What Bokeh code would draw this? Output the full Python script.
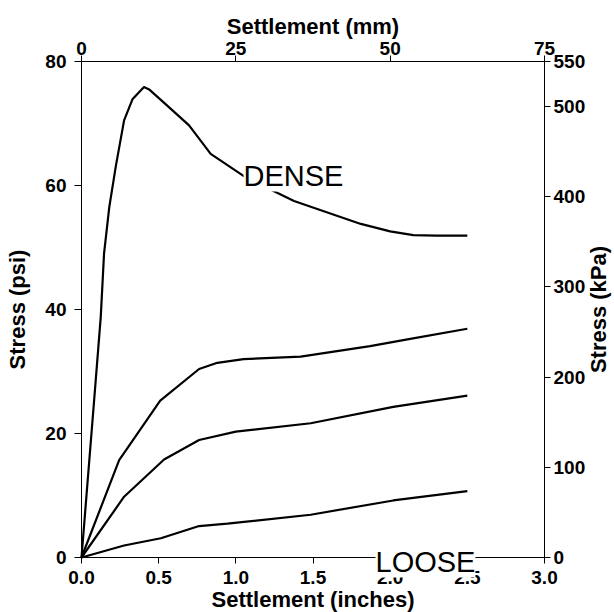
import math
from bokeh.plotting import figure
from bokeh.models import Range1d, LinearAxis, FixedTicker, PrintfTickFormatter, Label
from bokeh.embed import file_html
from bokeh.resources import INLINE

# ---- data (settlement in inches, stress in psi) ----
dense_x = [0.0, 0.082, 0.125, 0.146, 0.18, 0.223, 0.276, 0.33, 0.405, 0.438, 0.55, 0.697, 0.837, 1.064, 1.377, 1.81, 2.0, 2.15, 2.3, 2.5]
dense_y = [0.0, 25.4, 38.9, 49.0, 56.5, 63.2, 70.5, 73.9, 75.9, 75.5, 73.0, 69.7, 65.1, 61.3, 57.5, 53.8, 52.6, 52.0, 51.9, 51.9]

medium_dense_x = [0.0, 0.244, 0.51, 0.762, 0.88, 1.05, 1.42, 1.87, 2.13, 2.5]
medium_dense_y = [0.0, 15.7, 25.3, 30.4, 31.4, 32.0, 32.4, 34.1, 35.25, 36.9]

medium_x = [0.0, 0.276, 0.535, 0.762, 1.0, 1.485, 2.02, 2.5]
medium_y = [0.0, 9.8, 15.8, 18.95, 20.3, 21.65, 24.3, 26.1]

loose_x = [0.0, 0.276, 0.514, 0.762, 0.945, 1.485, 2.02, 2.5]
loose_y = [0.0, 1.94, 3.1, 5.07, 5.45, 6.9, 9.2, 10.7]

inch_ticks = [0.0, 0.5, 1.0, 1.5, 2.0, 2.5, 3.0]
mm_ticks = [0, 25, 50, 75]
psi_ticks = [0, 20, 40, 60, 80]
kpa_ticks = [0, 100, 200, 300, 400, 500, 550]

FONT = "Liberation Sans"
W, H = 614, 612
# pixel positions of the plotting box (axes are drawn at fixed data locations
# inside a frame that fills the whole canvas, so overlapping texts are not clipped)
BOX_L, BOX_R, BOX_T, BOX_B = 81, 544, 61, 557
PX_PER_IN = (BOX_R - BOX_L) / 3.0
PX_PER_PSI = (BOX_B - BOX_T) / 80.0
X_LOW = -BOX_L / PX_PER_IN
X_HIGH = 3.0 + (W - BOX_R) / PX_PER_IN
Y_LOW = -(H - BOX_B) / PX_PER_PSI
Y_HIGH = 80.0 + BOX_T / PX_PER_PSI
MM_PER_IN = 75 / 3.0
KPA_PER_PSI = 550 / 80.0

p = figure(width=W, height=H, output_backend="svg", toolbar_location=None,
           x_range=Range1d(X_LOW, X_HIGH), y_range=Range1d(Y_LOW, Y_HIGH),
           min_border=0, min_border_left=0, min_border_right=0,
           min_border_top=0, min_border_bottom=0)
p.extra_x_ranges = {"mm": Range1d(X_LOW * MM_PER_IN, X_HIGH * MM_PER_IN)}
p.extra_y_ranges = {"kpa": Range1d(Y_LOW * KPA_PER_PSI, Y_HIGH * KPA_PER_PSI)}
p.xgrid.visible = False
p.ygrid.visible = False
p.outline_line_color = None
p.background_fill_color = "white"
p.border_fill_color = "white"

for xs, ys in [(dense_x, dense_y), (medium_dense_x, medium_dense_y), (medium_x, medium_y), (loose_x, loose_y)]:
    p.line(xs, ys, line_color="black", line_width=2.2)

bottom = p.below[0]
left = p.left[0]

bottom.ticker = FixedTicker(ticks=inch_ticks)
bottom.formatter = PrintfTickFormatter(format="%.1f")
bottom.axis_label = "Settlement (inches)"
bottom.fixed_location = 0
bottom.bounds = (0, 3.0)

left.ticker = FixedTicker(ticks=psi_ticks)
left.axis_label = "Stress (psi)"
left.fixed_location = 0
left.bounds = (0, 80)

top = LinearAxis(x_range_name="mm", axis_label="Settlement (mm)",
                 fixed_location=80, bounds=(0, 75))
top.ticker = FixedTicker(ticks=mm_ticks)
p.add_layout(top, "above")

right = LinearAxis(y_range_name="kpa", fixed_location=3.0, bounds=(0, 550))
right.ticker = FixedTicker(ticks=kpa_ticks)
p.add_layout(right, "right")

for ax in [bottom, left, top, right]:
    ax.major_tick_out = 6
    ax.major_tick_in = 0
    ax.minor_tick_out = 0
    ax.minor_tick_in = 0
    ax.axis_line_color = "black"
    ax.axis_line_width = 1
    ax.major_tick_line_color = "black"
    ax.major_label_text_font = FONT
    ax.major_label_text_font_style = "bold"
    ax.major_label_text_font_size = "19px"
    ax.major_label_text_color = "black"
    ax.major_label_standoff = 3
    ax.axis_label_text_font = FONT
    ax.axis_label_text_font_style = "bold"
    ax.axis_label_text_font_size = "22px"
    ax.axis_label_text_color = "black"
    ax.axis_label_standoff = 0

left.major_tick_out = 7
left.major_label_standoff = 8
left.axis_label_standoff = 12
bottom.major_label_standoff = 7
top.major_label_standoff = 1

# right-hand axis title, reading bottom-to-top as in the original figure
kpa_title = Label(x=3.0, y=40, x_offset=54, text="Stress (kPa)", angle=math.pi / 2,
                  text_font=FONT, text_font_style="bold", text_font_size="22px",
                  text_color="black", text_align="center", text_baseline="middle")
p.add_layout(kpa_title)

dense_lbl = Label(x=1.05, y=61.6, text="DENSE", text_font=FONT, text_font_size="29px",
                  text_color="black", text_baseline="alphabetic",
                  background_fill_color="white", background_fill_alpha=1.0)
loose_lbl = Label(x=1.905, y=-0.65, text="LOOSE", text_font=FONT, text_font_size="29px",
                  text_color="black", text_baseline="alphabetic",
                  background_fill_color="white", background_fill_alpha=1.0)
p.add_layout(dense_lbl)
p.add_layout(loose_lbl)

open("out.html", "w").write(file_html(p, INLINE))
